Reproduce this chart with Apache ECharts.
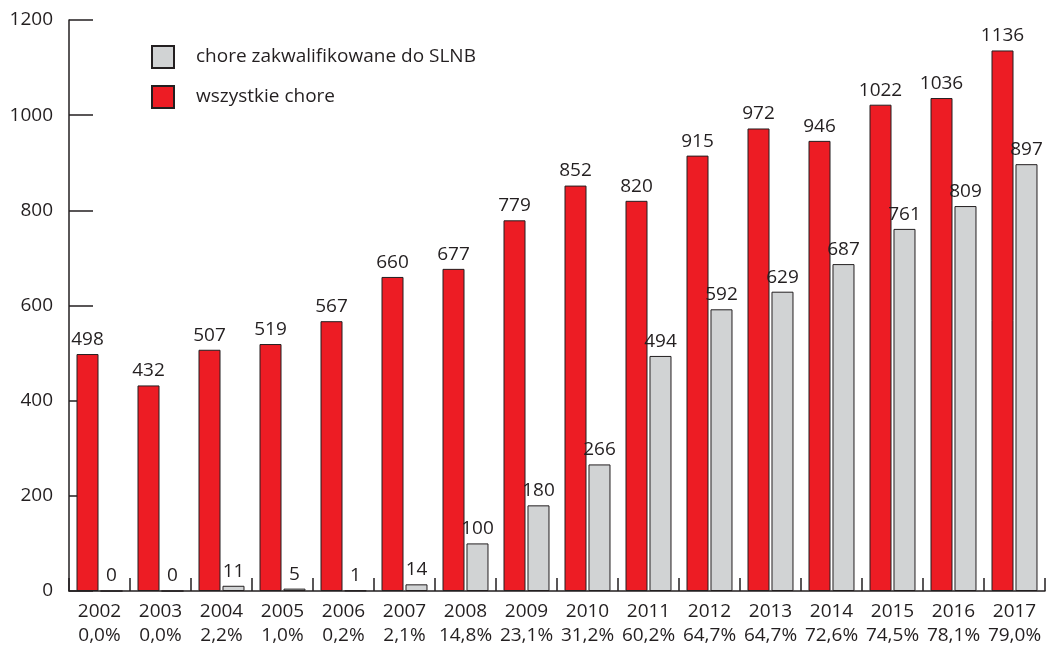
<!DOCTYPE html>
<html>
<head>
<meta charset="utf-8">
<script src="https://cdn.jsdelivr.net/npm/echarts@6/dist/echarts.min.js"></script>
<style>html,body{margin:0;padding:0;background:#fff}#c{width:1052px;height:648px}</style>
</head>
<body>
<div id="c"></div>
<script>
const years = ['2002','2003','2004','2005','2006','2007','2008','2009','2010','2011','2012','2013','2014','2015','2016','2017'];
const percents = ['0,0%','0,0%','2,2%','1,0%','0,2%','2,1%','14,8%','23,1%','31,2%','60,2%','64,7%','64,7%','72,6%','74,5%','78,1%','79,0%'];
const allPatients = [498,432,507,519,567,660,677,779,852,820,915,972,946,1022,1036,1136];
const slnbPatients = [0,0,11,5,1,14,100,180,266,494,592,629,687,761,809,897];
const seriesNames = ['wszystkie chore','chore zakwalifikowane do SLNB'];

const font = '"Open Sans", sans-serif';
const ink = '#231f20';
const fs = 19;
const chart = echarts.init(document.getElementById('c'), null, {renderer:'canvas'});
chart.setOption({
  animation: false,
  textStyle: {fontFamily: font},
  grid: {left: 69, right: 7, top: 20, bottom: 56, containLabel: false},
  legend: {
    data: [seriesNames[1], seriesNames[0]],
    orient: 'vertical', left: 151, top: 45, padding: 0,
    itemWidth: 22, itemHeight: 22, itemGap: 16,
    icon: 'rect',
    textStyle: {fontFamily: font, fontSize: fs, color: ink, padding: [0,0,0,17]}
  },
  xAxis: {
    type: 'category', data: years,
    axisLine: {lineStyle: {color: ink, width: 1.5}},
    axisTick: {show: true, inside: true, length: 13, interval: 0, lineStyle: {color: ink, width: 1.5}},
    axisLabel: {
      interval: 0, margin: 9, color: ink, fontFamily: font, fontSize: fs, lineHeight: 24,
      formatter: (v, i) => v + '\n' + percents[i]
    }
  },
  yAxis: {
    type: 'value', min: 0, max: 1200, interval: 200,
    splitLine: {show: false},
    axisLine: {show: true, lineStyle: {color: ink, width: 1.5}},
    axisTick: {show: true, inside: true, length: 24, lineStyle: {color: ink, width: 1.5}},
    axisLabel: {margin: 16, color: ink, fontFamily: font, fontSize: fs, formatter: v => String(v)}
  },
  series: [
    {
      name: seriesNames[0], type: 'bar', data: allPatients,
      barWidth: 22, barGap: '9%',
      itemStyle: {color: '#ed1c24', borderColor: ink, borderWidth: 1},
      label: {show: true, position: 'top', color: ink, fontFamily: font, fontSize: fs}
    },
    {
      name: seriesNames[1], type: 'bar', data: slnbPatients,
      barWidth: 22,
      itemStyle: {color: '#d1d3d4', borderColor: ink, borderWidth: 1},
      label: {show: true, position: 'top', color: ink, fontFamily: font, fontSize: fs}
    }
  ]
});
</script>
</body>
</html>
